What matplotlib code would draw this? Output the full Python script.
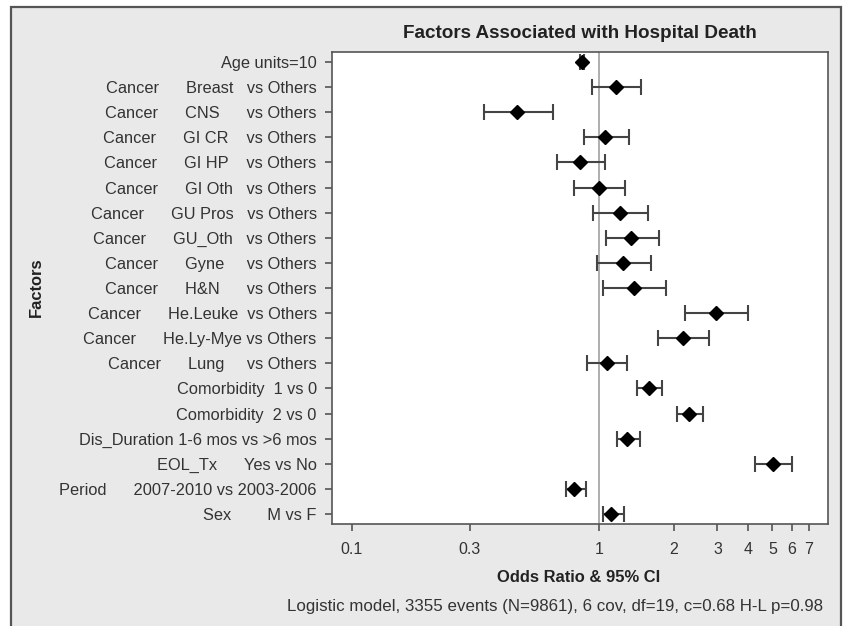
import matplotlib.pyplot as plt
from matplotlib.patches import Rectangle
import numpy as np

# Factores y niveles (etiquetas del eje y, con el relleno de espacios del original)
etiquetas = [
    'Age units=10',
    'Cancer      Breast   vs Others',
    'Cancer      CNS      vs Others',
    'Cancer      GI CR    vs Others',
    'Cancer      GI HP    vs Others',
    'Cancer      GI Oth   vs Others',
    'Cancer      GU Pros   vs Others',
    'Cancer      GU_Oth   vs Others',
    'Cancer      Gyne     vs Others',
    'Cancer      H&N      vs Others',
    'Cancer      He.Leuke  vs Others',
    'Cancer      He.Ly-Mye vs Others',
    'Cancer      Lung     vs Others',
    'Comorbidity  1 vs 0',
    'Comorbidity  2 vs 0',
    'Dis_Duration 1-6 mos vs >6 mos',
    'EOL_Tx      Yes vs No',
    'Period      2007-2010 vs 2003-2006',
    'Sex        M vs F',
]

odds_ratio = [0.854, 1.17, 0.465, 1.057, 0.833, 1.00, 1.21, 1.345, 1.25, 1.375,
              2.95, 2.18, 1.07, 1.59, 2.31, 1.30, 5.02, 0.792, 1.12]
ic_inf = [0.838, 0.934, 0.341, 0.868, 0.675, 0.788, 0.946, 1.064, 0.98, 1.038,
          2.225, 1.731, 0.889, 1.424, 2.065, 1.182, 4.266, 0.732, 1.032]
ic_sup = [0.870, 1.474, 0.648, 1.322, 1.051, 1.274, 1.569, 1.747, 1.622, 1.859,
          3.975, 2.766, 1.290, 1.796, 2.616, 1.464, 6.018, 0.881, 1.262]

ticks_x = [0.1, 0.3, 1, 2, 3, 4, 5, 6, 7]
ticks_x_labels = ['0.1', '0.3', '1', '2', '3', '4', '5', '6', '7']

plt.rcParams['font.family'] = ['Liberation Sans', 'DejaVu Sans']
GRIS_TEXTO = '#333333'

W, H = 843, 626
fig = plt.figure(figsize=(W / 100, H / 100), dpi=100)
fig.patch.set_facecolor('white')

# panel gris de fondo con borde
fig.patches.append(Rectangle((11 / W, -0.05), (841 - 11) / W, 1.05 - 7 / H,
                             transform=fig.transFigure, facecolor='#e9e9e9',
                             edgecolor='#555555', linewidth=1.6, zorder=-10))

ax = fig.add_axes([332 / W, 1 - 524 / H, (828 - 332) / W, (524 - 52) / H])
ax.set_facecolor('white')

n = len(etiquetas)
ys = np.arange(n)
orr = np.array(odds_ratio)
err = [orr - np.array(ic_inf), np.array(ic_sup) - orr]

ax.axvline(1, color='#a8a8a8', linewidth=1.3, zorder=1)
ax.errorbar(orr, ys, xerr=err, fmt='D', color='black', markersize=7,
            ecolor='#444444', elinewidth=1.5, capsize=6, capthick=1.5, zorder=3)

ax.set_xscale('log')
ax.set_xlim(0.0833, 8.39)
ax.set_xticks(ticks_x)
ax.set_xticklabels(ticks_x_labels)
ax.minorticks_off()
ax.set_ylim(n - 0.6, -0.4)
ax.set_yticks(ys)
ax.set_yticklabels(etiquetas)

ax.tick_params(axis='both', colors='#555555', labelcolor=GRIS_TEXTO,
               length=5, width=1.2)
ax.tick_params(axis='y', pad=6, labelsize=11.75)
ax.tick_params(axis='x', pad=8, labelsize=11.5)
for lado in ax.spines.values():
    lado.set_color('#555555')
    lado.set_linewidth(1.2)

fig.text(580 / W, 1 - 33 / H, 'Factors Associated with Hospital Death',
         ha='center', va='center', fontsize=13.6, fontweight='bold', color='#222222')
fig.text(579 / W, 1 - 577 / H, 'Odds Ratio & 95% CI',
         ha='center', va='center', fontsize=11.9, fontweight='bold', color='#222222')
fig.text(36 / W, 1 - 287 / H, 'Factors', rotation=90,
         ha='center', va='center', fontsize=11.9, fontweight='bold', color='#222222')
fig.text(823 / W, 1 - 606 / H,
         'Logistic model, 3355 events (N=9861), 6 cov, df=19, c=0.68 H-L p=0.98',
         ha='right', va='center', fontsize=12.2, color=GRIS_TEXTO)

fig.savefig('out.png', dpi=100)
